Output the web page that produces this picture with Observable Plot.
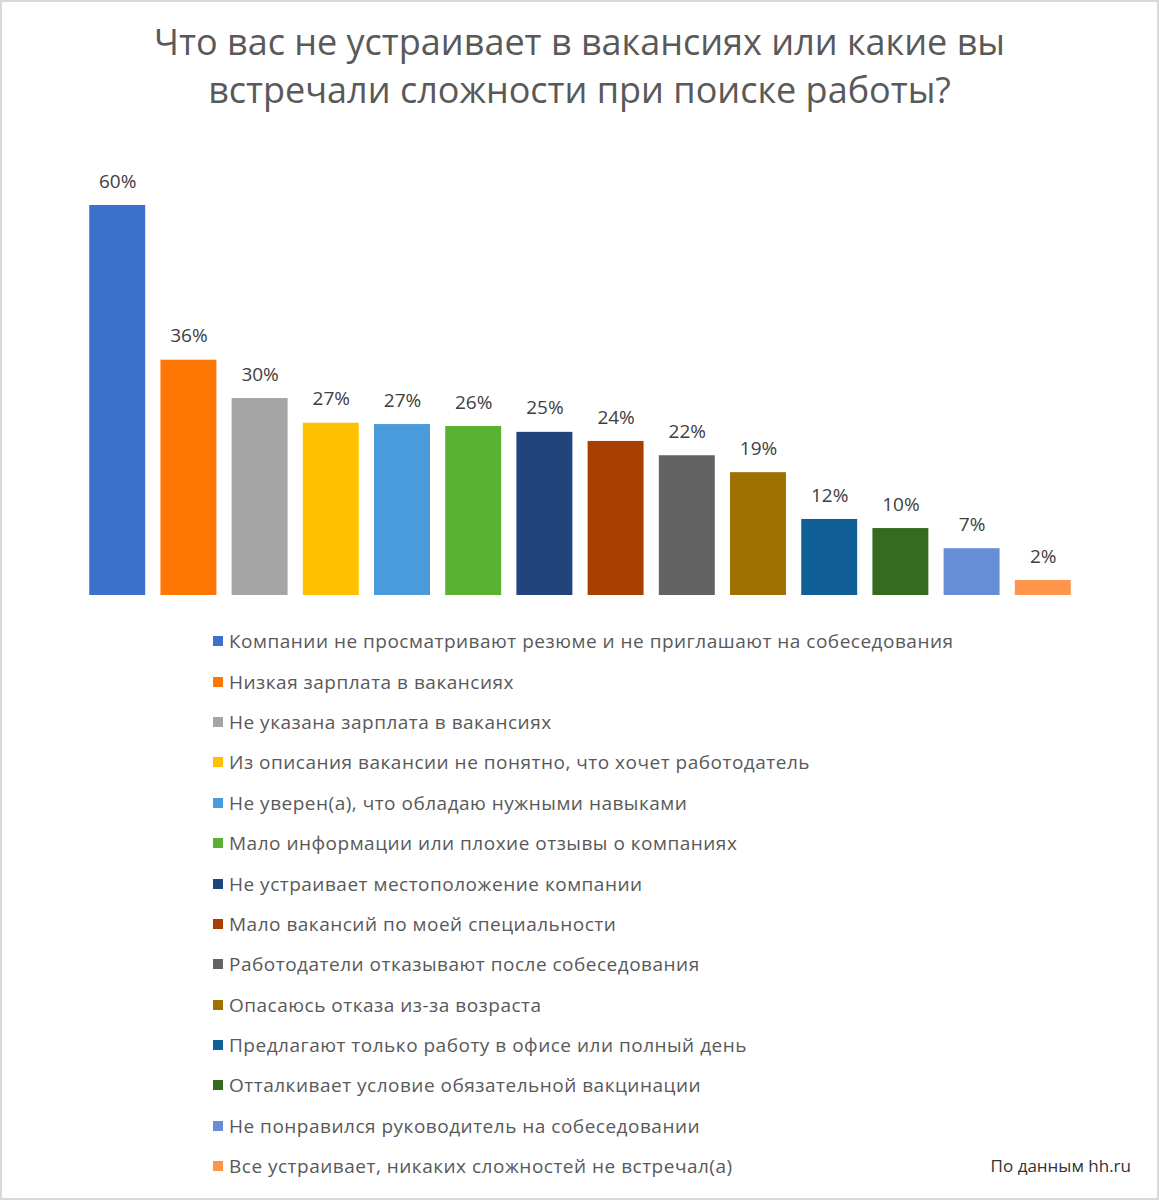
<!DOCTYPE html>
<html>
<head>
<meta charset="utf-8">
<script src="https://cdn.jsdelivr.net/npm/d3@7"></script>
<script src="https://cdn.jsdelivr.net/npm/@observablehq/plot@0.6"></script>
<style>
  html, body { margin: 0; padding: 0; background: #fff; }
  #page { position: relative; width: 1159px; height: 1200px; overflow: hidden; font-family: "Open Sans", sans-serif; }
  #border { position: absolute; left: 0; top: 0; width: 1159px; height: 1200px; box-sizing: border-box; border: 2px solid #d9d9d9; pointer-events: none; }
  #title { position: absolute; left: 0; top: 18px; width: 1159px; text-align: center; font-size: 36px; line-height: 48px; color: #595959; }
  #chart { position: absolute; left: 0; top: 140px; }
  #legend { position: absolute; left: 213px; top: 621px; }
  .row { height: 40.4px; display: flex; align-items: center; font-size: 19px; color: #595959; letter-spacing: 0.5px; white-space: nowrap; }
  .sw { width: 10px; height: 10px; margin-right: 6px; flex: none; }
  #caption { position: absolute; right: 28px; top: 1155px; font-size: 17px; color: #333; line-height: 22px; }
</style>
</head>
<body>
<div id="page">
  <div id="title">Что вас не устраивает в вакансиях или какие вы<br>встречали сложности при поиске работы?</div>
  <div id="chart"></div>
  <div id="legend"></div>
  <div id="caption">По данным hh.ru</div>
  <div id="border"></div>
</div>
<script>
const categories = [
  "Компании не просматривают резюме и не приглашают на собеседования",
  "Низкая зарплата в вакансиях",
  "Не указана зарплата в вакансиях",
  "Из описания вакансии не понятно, что хочет работодатель",
  "Не уверен(а), что обладаю нужными навыками",
  "Мало информации или плохие отзывы о компаниях",
  "Не устраивает местоположение  компании",
  "Мало вакансий по моей специальности",
  "Работодатели отказывают после собеседования",
  "Опасаюсь отказа из-за возраста",
  "Предлагают только работу в офисе или полный день",
  "Отталкивает условие обязательной вакцинации",
  "Не понравился руководитель на собеседовании",
  "Все устраивает, никаких сложностей не встречал(а)"
];
// bar heights (percent)
const values = [60, 36.2, 30.3, 26.5, 26.3, 26.0, 25.1, 23.7, 21.5, 18.9, 11.7, 10.3, 7.2, 2.3];
// labels as printed above the bars
const labels = ["60%", "36%", "30%", "27%", "27%", "26%", "25%", "24%", "22%", "19%", "12%", "10%", "7%", "2%"];
const colors = [
  "#3c70cb", "#fe7705", "#a5a5a5", "#ffc000", "#4a9bdb", "#5ab031", "#20447b",
  "#a83f00", "#636363", "#9e7100", "#115f97", "#366a1f", "#658ed6", "#ff944b"
];

const data = categories.map((c, i) => ({category: c, value: values[i], label: labels[i], color: colors[i]}));

const chart = Plot.plot({
  width: 1159,
  height: 470,
  marginLeft: 74,
  marginRight: 73,
  marginTop: 65,
  marginBottom: 15,
  x: {domain: categories, padding: 0.214, round: false, axis: null},
  y: {domain: [0, 60], axis: null},
  color: {type: "identity"},
  style: {fontFamily: "Open Sans, sans-serif", background: "transparent"},
  marks: [
    Plot.barY(data, {x: "category", y: "value", fill: "color"}),
    Plot.text(data, {x: "category", y: "value", text: "label", dy: -24, fontSize: 19, fill: "#404040"})
  ]
});
document.getElementById("chart").appendChild(chart);

const legend = document.getElementById("legend");
data.forEach(d => {
  const row = document.createElement("div");
  row.className = "row";
  const sw = document.createElement("span");
  sw.className = "sw";
  sw.style.background = d.color;
  const label = document.createElement("span");
  label.textContent = d.category;
  row.appendChild(sw);
  row.appendChild(label);
  legend.appendChild(row);
});
</script>
</body>
</html>
